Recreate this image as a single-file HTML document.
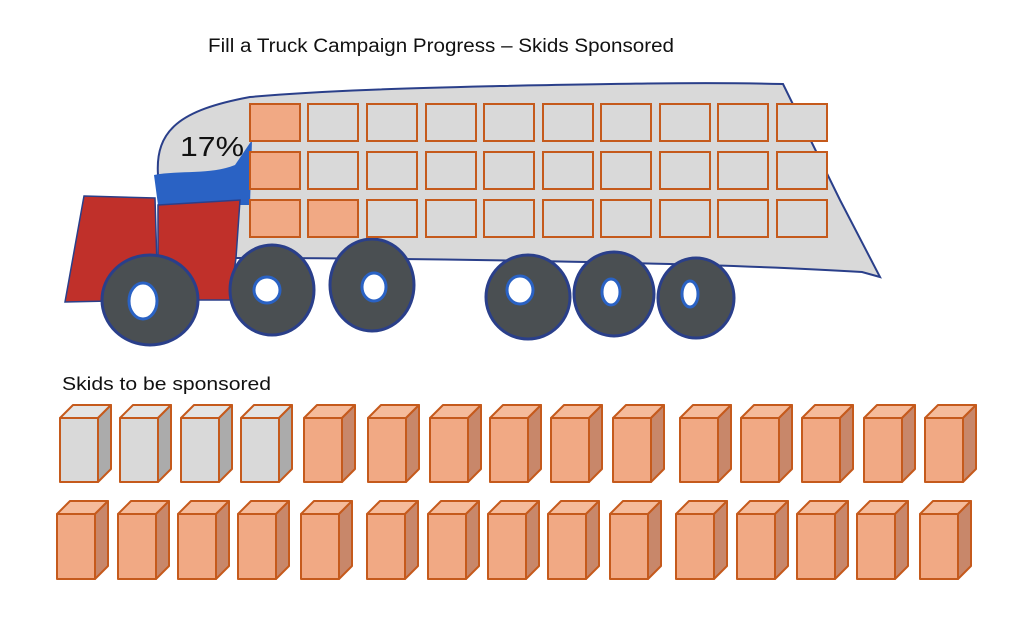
<!DOCTYPE html>
<html><head><meta charset="utf-8"><style>
body{margin:0;background:#fff;width:1024px;height:616px;overflow:hidden;font-family:"Liberation Sans",sans-serif}
</style></head><body>
<svg id="s" width="1024" height="616" xmlns="http://www.w3.org/2000/svg">
<text x="208" y="52" font-size="19" fill="#111" textLength="466" lengthAdjust="spacingAndGlyphs">Fill a Truck Campaign Progress – Skids Sponsored</text>
<text x="62" y="390" font-size="18" fill="#111" textLength="209" lengthAdjust="spacingAndGlyphs">Skids to be sponsored</text>
<!-- truck body -->
<path d="M158,175 C155,130 180,110 250,97 C330,90 420,88 500,86 C600,84 700,82 783,84 L840,200 L880,277 L862,272 C700,262 400,258 230,258 L160,230 Z" fill="#d9d9d9" stroke="#2a3f8a" stroke-width="2"/>
<!-- blue band -->
<path d="M154,175 C180,170 210,175 235,165 L252,140 L250,205 L158,205 Z" fill="#2a62c4"/>
<!-- red cab -->
<path d="M158,205 L240,200 L236,258 L230,300 L158,300 Z" fill="#c0302a" stroke="#2a3f8a" stroke-width="1.5"/>
<path d="M84,196 L155,198 L158,300 L65,302 Z" fill="#c0302a" stroke="#2a3f8a" stroke-width="1.5"/>
<g stroke="#2a3f8a" stroke-width="3" fill="#4a4f52">
<ellipse cx="150" cy="300" rx="48" ry="45"/>
<ellipse cx="272" cy="290" rx="42" ry="45"/>
<ellipse cx="372" cy="285" rx="42" ry="46"/>
<ellipse cx="528" cy="297" rx="42" ry="42"/>
<ellipse cx="614" cy="294" rx="40" ry="42"/>
<ellipse cx="696" cy="298" rx="38" ry="40"/>
</g>
<g fill="#fff" stroke="#2a62c4" stroke-width="3">
<ellipse cx="143" cy="301" rx="14" ry="18"/>
<ellipse cx="267" cy="290" rx="13" ry="13"/>
<ellipse cx="374" cy="287" rx="12" ry="14"/>
<ellipse cx="520" cy="290" rx="13" ry="14"/>
<ellipse cx="611" cy="292" rx="9" ry="13"/>
<ellipse cx="690" cy="294" rx="8" ry="13"/>
</g>
<text x="180" y="156" font-size="28" fill="#111" textLength="64" lengthAdjust="spacingAndGlyphs">17%</text>
<g id="grid"></g>
<g id="skids"></g>
</svg>
<script>
var ns="http://www.w3.org/2000/svg",g=document.getElementById("grid"),sk=document.getElementById("skids");
var cx=[250,308,367,426,484,543,601,660,718,777],ry=[104,152,200];
var filled={"0,0":1,"1,0":1,"2,0":1,"2,1":1};
ry.forEach(function(y,r){cx.forEach(function(x,c){var e=document.createElementNS(ns,"rect");
e.setAttribute("x",x);e.setAttribute("y",y);e.setAttribute("width",50);e.setAttribute("height",37);
e.setAttribute("fill",filled[r+","+c]?"#f1a984":"#d9d9d9");e.setAttribute("stroke","#c55a1c");e.setAttribute("stroke-width","2");g.appendChild(e);});});
function skid(x,y,h,gray){var w=38,d=13;
var f=gray?["#d9d9d9","#e4e4e4","#ababab"]:["#f1a984","#f5bb9b","#c8876a"];
var p=[["M"+x+","+y+"h"+w+"v"+h+"h-"+w+"z",f[0]],["M"+x+","+y+"l"+d+",-"+d+"h"+w+"l-"+d+","+d+"z",f[1]],["M"+(x+w)+","+y+"l"+d+",-"+d+"v"+h+"l-"+d+","+d+"z",f[2]]];
p.forEach(function(q){var e=document.createElementNS(ns,"path");e.setAttribute("d",q[0]);e.setAttribute("fill",q[1]);e.setAttribute("stroke","#c55a1c");e.setAttribute("stroke-width","2");e.setAttribute("stroke-linejoin","round");sk.appendChild(e);});}
[60,120,181,241,304,368,430,490,551,613,680,741,802,864,925].forEach(function(x,i){skid(x,418,64,i<4);});
[57,118,178,238,301,367,428,488,548,610,676,737,797,857,920].forEach(function(x){skid(x,514,65,false);});
</script>
</body></html>
